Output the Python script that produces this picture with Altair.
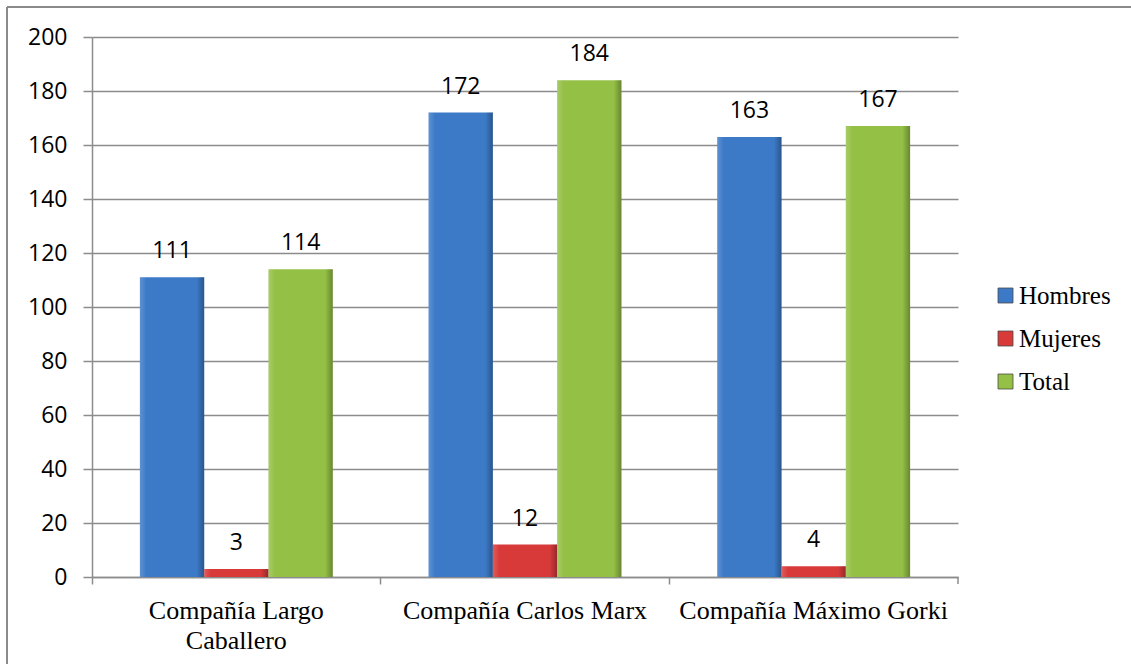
import altair as alt
import pandas as pd

# ---- data ----
companias = ["Compañía Largo Caballero", "Compañía Carlos Marx", "Compañía Máximo Gorki"]
series = ["Hombres", "Mujeres", "Total"]
hombres = [111, 172, 163]
mujeres = [3, 12, 4]
total = [114, 184, 167]
y_ticks = [0, 20, 40, 60, 80, 100, 120, 140, 160, 180, 200]
colors = ["#3C7AC8", "#D83A3A", "#95C046"]

rows = []
for i, c in enumerate(companias):
    for s, vals in zip(series, [hombres, mujeres, total]):
        rows.append({"compania": c, "serie": s, "valor": vals[i]})
df = pd.DataFrame(rows)

W, H = 866, 540
GRID = "#8c8c8c"

x_enc = alt.X(
    "compania:N",
    sort=companias,
    title=None,
    scale=alt.Scale(paddingInner=0, paddingOuter=0),
    axis=alt.Axis(
        bandPosition=0,
        labelAngle=0,
        labelAlign="center",
        labelBaseline="top",
        tickSize=7,
        tickColor=GRID,
        tickWidth=1.5,
        domainColor=GRID,
        domainWidth=1.5,
        labelFont="Liberation Serif",
        labelFontSize=26,
        labelColor="#000000",
        labelPadding=13,
        labelLimit=0,
        labelOverlap=False,
        labelBound=False,
        labelLineHeight=30,
        labelExpr="datum.label == 'Compañía Largo Caballero' ? ['Compañía Largo', 'Caballero'] : datum.label",
    ),
)
xoff_enc = alt.XOffset("serie:N", sort=series, scale=alt.Scale(paddingOuter=0.745, paddingInner=0))
y_enc = alt.Y(
    "valor:Q",
    title=None,
    scale=alt.Scale(domain=[0, 200], nice=False, zero=True),
    axis=alt.Axis(
        values=y_ticks,
        grid=True,
        gridColor=GRID,
        gridWidth=1.5,
        tickSize=9,
        tickColor=GRID,
        tickWidth=1.5,
        domainColor=GRID,
        domainWidth=1.5,
        labelFont="Open Sans",
        labelFontSize=23,
        labelColor="#000000",
        labelPadding=16,
    ),
)

base = alt.Chart(df)

bars = base.mark_bar().encode(
    x=x_enc,
    xOffset=xoff_enc,
    y=y_enc,
    color=alt.Color(
        "serie:N",
        sort=series,
        scale=alt.Scale(domain=series, range=colors),
        legend=alt.Legend(
            orient="none",
            legendX=901,
            legendY=246,
            title=None,
            symbolType="square",
            symbolSize=225,
            symbolStrokeColor="#4a4a4a",
            symbolStrokeWidth=0.8,
            labelFont="Liberation Serif",
            labelFontSize=25,
            labelColor="#000000",
            labelOffset=1,
            rowPadding=17,
        ),
    ),
)

bevel = base.mark_bar(
    fill=alt.Gradient(
        gradient="linear",
        x1=0, x2=1, y1=0, y2=0,
        stops=[
            alt.GradientStop(color="rgba(255,255,255,0.18)", offset=0),
            alt.GradientStop(color="rgba(255,255,255,0)", offset=0.1),
            alt.GradientStop(color="rgba(0,0,0,0)", offset=0.88),
            alt.GradientStop(color="rgba(0,0,0,0.3)", offset=1),
        ],
    )
).encode(x=x_enc, xOffset=xoff_enc, y=y_enc)

labels = base.mark_text(
    baseline="alphabetic", dy=-19, font="Open Sans", fontSize=23, color="#000000"
).encode(x=x_enc, xOffset=xoff_enc, y=y_enc, text=alt.Text("valor:Q"))

one = pd.DataFrame({"a": [0]})
border_top = alt.Chart(one).mark_rule(color="#8a8a8a", strokeWidth=2).encode(
    x=alt.value(-85), x2=alt.value(1131 - 92 + 10), y=alt.value(-30)
)
border_left = alt.Chart(one).mark_rule(color="#8a8a8a", strokeWidth=2).encode(
    x=alt.value(-85), y=alt.value(-30), y2=alt.value(664 - 37 + 10)
)
end_tick = alt.Chart(one).mark_rule(color=GRID, strokeWidth=1.5).encode(
    x=alt.value(W), y=alt.value(H), y2=alt.value(H + 7)
)

chart = (
    alt.layer(border_top, border_left, bars, bevel, labels, end_tick)
    .properties(
        width=W,
        height=H,
        autosize=alt.AutoSizeParams(type="none"),
        padding={"left": 92, "top": 37, "right": 173, "bottom": 87},
    )
    .configure_view(strokeWidth=0)
)

chart.save("out.html", embed_options={"renderer": "svg", "actions": False})
